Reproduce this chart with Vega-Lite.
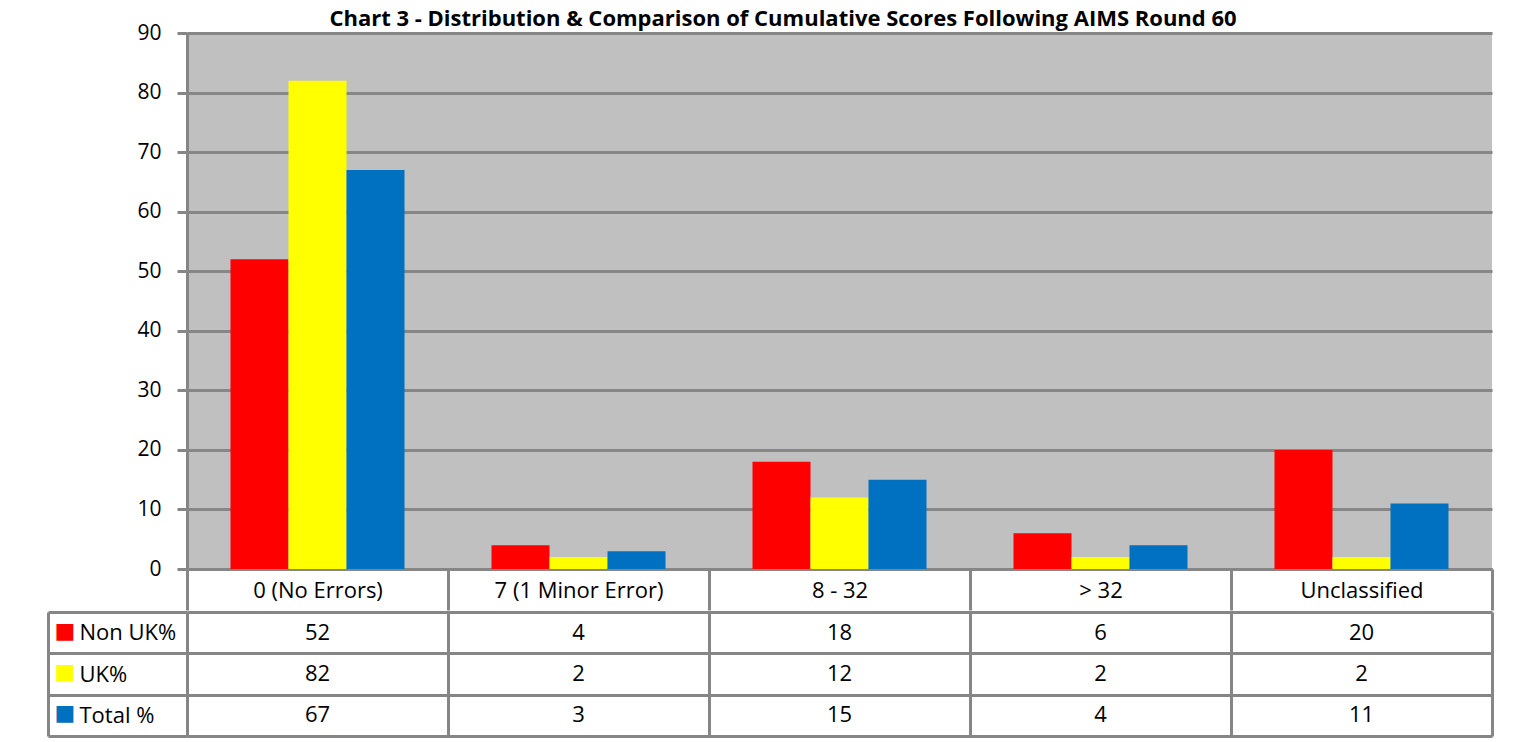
{
  "$schema": "https://vega.github.io/schema/vega-lite/v6.json",
  "background": "white",
  "padding": {"left": 46, "top": 8, "right": 28, "bottom": 8},
  "title": {
    "text": "Chart 3 - Distribution & Comparison of Cumulative Scores Following AIMS Round 60",
    "font": "Open Sans",
    "fontSize": 22,
    "fontWeight": "bold",
    "color": "black",
    "anchor": "middle",
    "offset": -9,
    "dx": 13
  },
  "datasets": {
    "scores": [
      {"category": "0 (No Errors)", "series": "Non UK%", "value": 52},
      {"category": "0 (No Errors)", "series": "UK%", "value": 82},
      {"category": "0 (No Errors)", "series": "Total %", "value": 67},
      {"category": "7 (1 Minor Error)", "series": "Non UK%", "value": 4},
      {"category": "7 (1 Minor Error)", "series": "UK%", "value": 2},
      {"category": "7 (1 Minor Error)", "series": "Total %", "value": 3},
      {"category": "8 - 32", "series": "Non UK%", "value": 18},
      {"category": "8 - 32", "series": "UK%", "value": 12},
      {"category": "8 - 32", "series": "Total %", "value": 15},
      {"category": "> 32", "series": "Non UK%", "value": 6},
      {"category": "> 32", "series": "UK%", "value": 2},
      {"category": "> 32", "series": "Total %", "value": 4},
      {"category": "Unclassified", "series": "Non UK%", "value": 20},
      {"category": "Unclassified", "series": "UK%", "value": 2},
      {"category": "Unclassified", "series": "Total %", "value": 11}
    ]
  },
  "spacing": -16,
  "resolve": {"scale": {"x": "independent", "y": "independent"}},
  "vconcat": [
    {
      "width": 1305,
      "height": 536,
      "view": {"fill": "#C0C0C0", "stroke": null},
      "data": {"name": "scores"},
      "mark": {"type": "bar"},
      "encoding": {
        "x": {
          "field": "category",
          "type": "nominal",
          "sort": ["0 (No Errors)", "7 (1 Minor Error)", "8 - 32", "> 32", "Unclassified"],
          "scale": {"type": "band", "paddingInner": 0, "paddingOuter": 0},
          "axis": {
            "title": null,
            "orient": "bottom",
            "labelAngle": 0,
            "labelFontSize": 22,
            "labelColor": "black",
            "labelBaseline": "middle",
            "labelPadding": -20,
            "labelLimit": 260,
            "tickBand": "extent",
            "tickExtra": true,
            "tickSize": 41,
            "tickWidth": 3,
            "tickColor": "#868686",
            "domainColor": "#868686",
            "domainWidth": 3,
            "grid": false
          }
        },
        "xOffset": {
          "field": "series",
          "type": "nominal",
          "sort": ["Non UK%", "UK%", "Total %"],
          "scale": {"paddingInner": 0, "paddingOuter": 0.75}
        },
        "y": {
          "field": "value",
          "type": "quantitative",
          "scale": {"domain": [0, 90], "nice": false},
          "axis": {
            "title": null,
            "values": [0, 10, 20, 30, 40, 50, 60, 70, 80, 90],
            "tickSize": 10,
            "tickWidth": 3,
            "tickColor": "#868686",
            "grid": true,
            "gridColor": "#868686",
            "gridWidth": 3,
            "domainColor": "#868686",
            "domainWidth": 3,
            "labelFontSize": 21,
            "labelPadding": 16,
            "labelColor": "black"
          }
        },
        "color": {
          "field": "series",
          "type": "nominal",
          "scale": {"domain": ["Non UK%", "UK%", "Total %"], "range": ["#FF0000", "#FFFF00", "#0070C0"]},
          "legend": null
        }
      }
    },
    {
      "width": 1305,
      "height": 124,
      "view": {"stroke": null},
      "data": {"name": "scores"},
      "encoding": {
        "x": {
          "field": "category",
          "type": "nominal",
          "sort": ["0 (No Errors)", "7 (1 Minor Error)", "8 - 32", "> 32", "Unclassified"],
          "scale": {"type": "band", "paddingInner": 0, "paddingOuter": 0},
          "axis": {
            "orient": "bottom",
            "title": null,
            "labels": false,
            "ticks": false,
            "domain": false,
            "grid": true,
            "gridColor": "#868686",
            "gridWidth": 3,
            "tickBand": "extent",
            "tickExtra": true
          }
        }
      },
      "layer": [
        {
          "mark": {"type": "text", "fontSize": 22, "color": "black", "font": "Open Sans"},
          "encoding": {
            "y": {
              "field": "series",
              "type": "nominal",
              "sort": ["Non UK%", "UK%", "Total %"],
              "scale": {"type": "band", "paddingInner": 0, "paddingOuter": 0},
              "axis": {
                "orient": "left",
                "title": null,
                "domain": true,
                "domainColor": "#868686",
                "domainWidth": 3,
                "ticks": true,
                "tickSize": 139,
                "tickWidth": 3,
                "tickColor": "#868686",
                "tickBand": "extent",
                "tickExtra": true,
                "grid": true,
                "gridColor": "#868686",
                "gridWidth": 3,
                "labelAlign": "left",
                "labelPadding": -31,
                "labelFontSize": 22,
                "labelColor": "black",
                "labelLimit": 0
              }
            },
            "text": {"field": "value", "type": "quantitative"}
          }
        },
        {
          "mark": {"type": "text", "opacity": 0},
          "encoding": {
            "y": {
              "field": "series",
              "type": "nominal",
              "sort": ["Non UK%", "UK%", "Total %"],
              "scale": {"type": "band", "paddingInner": 0, "paddingOuter": 0},
              "axis": {
                "orient": "left",
                "title": null,
                "domain": false,
                "ticks": false,
                "tickSize": 0,
                "grid": false,
                "labelExpr": "'■'",
                "labelAlign": "left",
                "labelPadding": 133,
                "labelFont": "DejaVu Sans",
                "labelFontSize": 22,
                "labelOffset": -2,
                "labelColor": {
                  "condition": [
                    {"test": "datum.value === 'Non UK%'", "value": "#FF0000"},
                    {"test": "datum.value === 'UK%'", "value": "#FFFF00"}
                  ],
                  "value": "#0070C0"
                }
              }
            },
            "text": {"field": "value", "type": "quantitative"}
          }
        },
        {
          "mark": {"type": "text", "opacity": 0},
          "encoding": {
            "y": {
              "field": "series",
              "type": "nominal",
              "sort": ["Non UK%", "UK%", "Total %"],
              "scale": {"type": "band", "paddingInner": 0, "paddingOuter": 0},
              "axis": {
                "orient": "left",
                "offset": 139,
                "title": null,
                "domain": true,
                "domainColor": "#868686",
                "domainWidth": 3,
                "ticks": false,
                "labels": false,
                "grid": false
              }
            },
            "text": {"field": "value", "type": "quantitative"}
          }
        }
      ],
      "resolve": {"axis": {"y": "independent"}}
    }
  ],
  "config": {
    "font": "Open Sans",
    "axis": {"labelFont": "Open Sans"}
  }
}
